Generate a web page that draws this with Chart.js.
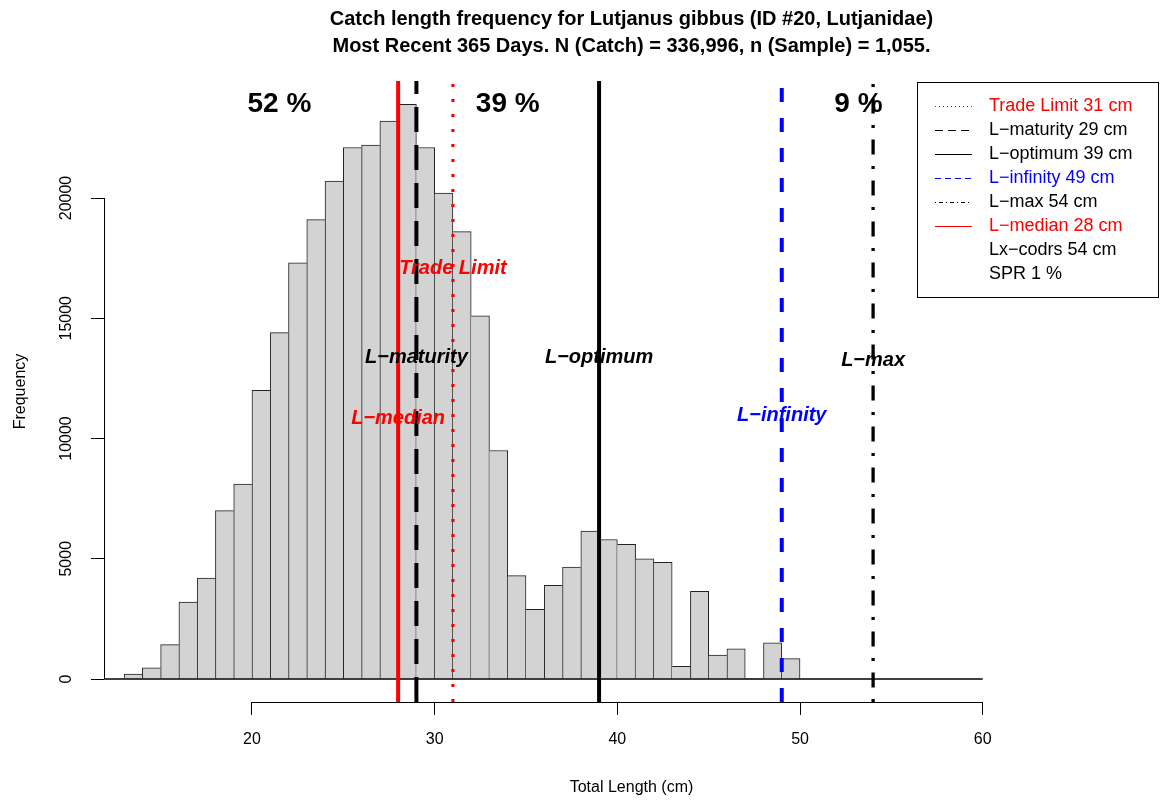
<!DOCTYPE html>
<html>
<head>
<meta charset="utf-8">
<script src="https://cdn.jsdelivr.net/npm/chart.js@4.4.1/dist/chart.umd.min.js"></script>
<style>
  html, body { margin: 0; padding: 0; background: #fff; }
</style>
</head>
<body>
<canvas id="lengthfreq" width="1161" height="803"></canvas>
<script>
// histogram bins (cm, lower edge, 1 cm wide) and catch counts
const binStarts = [13, 14, 15, 16, 17, 18, 19, 20, 21, 22, 23, 24, 25, 26, 27, 28, 29, 30, 31, 32,
                   33, 34, 35, 36, 37, 38, 39, 40, 41, 42, 43, 44, 45, 46, 47, 48, 49];
const frequency = [200, 460, 1430, 3200, 4200, 7000, 8100, 12000, 14400, 17300, 19100, 20700, 22100, 22200, 23200, 23900, 22100, 20200, 18600, 15100,
                   9500, 4300, 2900, 3900, 4650, 6150, 5800, 5600, 5000, 4850, 530, 3650, 1000, 1250, 0, 1500, 850];

const xTicks = [20, 30, 40, 50, 60];
const yTicks = [0, 5000, 10000, 15000, 20000];

const titleLines = [
  'Catch length frequency for Lutjanus gibbus (ID #20, Lutjanidae)',
  'Most Recent 365 Days. N (Catch) = 336,996, n (Sample) = 1,055.'
];

// reference lengths
const refNames = ['Trade Limit', 'L\u2212maturity', 'L\u2212optimum', 'L\u2212infinity', 'L\u2212max', 'L\u2212median'];
const refLengths = [31, 29, 39, 49, 54, 28];
const refLabelHeights = [17050, 13350, 13350, 10950, 13250, 10850];
const extraLegend = ['Lx\u2212codrs 54 cm', 'SPR 1 %'];

// share of catch below / between / above
const shareLabels = ['52 %', '39 %', '9 %'];
const shareAt = [21.5, 34, 53.2];

const RED = '#ff0000', BLUE = '#0000ff', BLACK = '#000000';
const refStyle = [
  { color: RED,   width: 3.2, dash: [3, 12],             legendDash: [1, 3] },
  { color: BLACK, width: 4,   dash: [25, 13],            legendDash: [8, 5] },
  { color: BLACK, width: 4,   dash: [],                  legendDash: [] },
  { color: BLUE,  width: 4,   dash: [14, 16],            legendDash: [6, 4] },
  { color: BLACK, width: 3.3, dash: [3, 11.5, 15, 11.5], legendDash: [1, 3, 4, 3] },
  { color: RED,   width: 4,   dash: [],                  legendDash: [] }
];

const FONT = '"Liberation Sans", Arial, Helvetica, sans-serif';
const X_MIN = 11.9, X_MAX = 69.65;
const Y_MIN = -956, Y_MAX = 24865;

const bars = binStarts.map((b, i) => ({ x: b + 0.5, y: frequency[i] }));

// a shared edge between two bins is drawn once, by the taller bin
function freqAt(j) {
  return (j >= 0 && j < frequency.length) ? frequency[j] : 0;
}
function barBorder(ctx) {
  const i = ctx.dataIndex, h = frequency[i];
  return {
    top: 1,
    bottom: 0,
    left: h > 0 && h >= freqAt(i - 1) ? 1 : 0,
    right: h > freqAt(i + 1) ? 1 : 0
  };
}

const datasets = [{
  type: 'bar',
  data: bars,
  backgroundColor: '#d3d3d3',
  borderColor: '#222',
  borderWidth: barBorder,
  borderSkipped: false,
  barPercentage: 1,
  categoryPercentage: 1,
  grouped: false,
  order: 10
}, {
  type: 'line',
  data: [{ x: X_MIN, y: 0 }, { x: 60, y: 0 }],
  borderColor: '#000',
  borderWidth: 1.5,
  pointRadius: 0,
  order: 5
}];

refLengths.forEach((len, i) => {
  datasets.push({
    type: 'line',
    data: [{ x: len, y: Y_MIN }, { x: len, y: Y_MAX }],
    borderColor: refStyle[i].color,
    borderWidth: refStyle[i].width,
    borderDash: refStyle[i].dash,
    borderCapStyle: 'butt',
    pointRadius: 0,
    order: 0
  });
});

// R style axes, labels, legend
const decor = {
  id: 'decor',
  afterDatasetsDraw(chart) {
    const { ctx, chartArea } = chart;
    const xs = chart.scales.x, ys = chart.scales.y;
    ctx.save();

    // x axis line (20 .. 60) and y axis line (0 .. 20000)
    ctx.strokeStyle = '#000';
    ctx.lineWidth = 1;
    ctx.beginPath();
    ctx.moveTo(xs.getPixelForValue(xTicks[0]), chartArea.bottom + 0.5);
    ctx.lineTo(xs.getPixelForValue(xTicks[xTicks.length - 1]), chartArea.bottom + 0.5);
    ctx.moveTo(chartArea.left + 0.5, ys.getPixelForValue(yTicks[0]));
    ctx.lineTo(chartArea.left + 0.5, ys.getPixelForValue(yTicks[yTicks.length - 1]));
    ctx.stroke();

    // rotated y tick labels
    ctx.fillStyle = '#000';
    ctx.font = '16px ' + FONT;
    ctx.textAlign = 'center';
    ctx.textBaseline = 'middle';
    yTicks.forEach(v => {
      ctx.save();
      ctx.translate(67, ys.getPixelForValue(v));
      ctx.rotate(-Math.PI / 2);
      ctx.fillText(String(v), 0, 0);
      ctx.restore();
    });

    // titles
    const cx = (chartArea.left + chartArea.right) / 2;
    ctx.font = 'bold 20px ' + FONT;
    ctx.fillText(titleLines[0], cx, 19);
    ctx.fillText(titleLines[1], cx, 46);

    // percentages
    const top = Math.max(...frequency);
    ctx.font = 'bold 28px ' + FONT;
    shareLabels.forEach((s, i) => {
      ctx.fillText(s, xs.getPixelForValue(shareAt[i]), ys.getPixelForValue(top));
    });

    // names next to reference lines
    ctx.font = 'italic bold 20px ' + FONT;
    refNames.forEach((n, i) => {
      ctx.fillStyle = refStyle[i].color;
      ctx.fillText(n, xs.getPixelForValue(refLengths[i]), ys.getPixelForValue(refLabelHeights[i]));
    });

    // legend box (top right of plot region)
    const bx = 917.5, by = chartArea.top + 1.5, bw = chartArea.right - 917.5 - 0.5, bh = 215;
    ctx.fillStyle = '#fff';
    ctx.fillRect(bx, by, bw, bh);
    ctx.strokeStyle = '#000';
    ctx.lineWidth = 1;
    ctx.setLineDash([]);
    ctx.strokeRect(bx, by, bw, bh);

    ctx.font = '18px ' + FONT;
    ctx.textAlign = 'left';
    const rowY = i => by + 23.5 + i * 24;
    refNames.forEach((n, i) => {
      const st = refStyle[i];
      ctx.strokeStyle = st.color;
      ctx.lineWidth = 1;
      ctx.setLineDash(st.legendDash);
      ctx.beginPath();
      ctx.moveTo(935, Math.round(rowY(i)) + 0.5);
      ctx.lineTo(972, Math.round(rowY(i)) + 0.5);
      ctx.stroke();
      ctx.fillStyle = st.color;
      ctx.fillText(n + ' ' + refLengths[i] + ' cm', 989, rowY(i));
    });
    ctx.setLineDash([]);
    ctx.fillStyle = '#000';
    extraLegend.forEach((t, k) => ctx.fillText(t, 989, rowY(refNames.length + k)));

    ctx.restore();
  }
};

new Chart(document.getElementById('lengthfreq'), {
  type: 'bar',
  data: { datasets },
  options: {
    responsive: false,
    animation: false,
    layout: { padding: { top: 81, right: 2, bottom: 0, left: 0 } },
    plugins: { legend: { display: false }, tooltip: { enabled: false } },
    scales: {
      x: {
        type: 'linear',
        offset: false,
        min: X_MIN,
        max: X_MAX,
        afterBuildTicks: s => { s.ticks = xTicks.map(v => ({ value: v })); },
        afterFit: s => { s.height = 101; },
        border: { display: false },
        grid: { display: true, offset: false, drawOnChartArea: false, drawTicks: true, tickLength: 13, color: '#000', lineWidth: 1 },
        ticks: { color: '#000', font: { family: FONT, size: 16 }, padding: 15, maxRotation: 0 },
        title: { display: true, text: 'Total Length (cm)', color: '#000', font: { family: FONT, size: 16 }, padding: { top: 0, bottom: 6 } }
      },
      y: {
        type: 'linear',
        min: Y_MIN,
        max: Y_MAX,
        afterBuildTicks: s => { s.ticks = yTicks.map(v => ({ value: v })); },
        afterFit: s => { s.width = 104; },
        border: { display: false },
        grid: { display: true, drawOnChartArea: false, drawTicks: true, tickLength: 13, color: '#000', lineWidth: 1 },
        ticks: { display: false },
        title: { display: true, text: 'Frequency', color: '#000', font: { family: FONT, size: 16 }, padding: { top: 11, bottom: 0 } }
      }
    }
  },
  plugins: [decor]
});
</script>
</body>
</html>
